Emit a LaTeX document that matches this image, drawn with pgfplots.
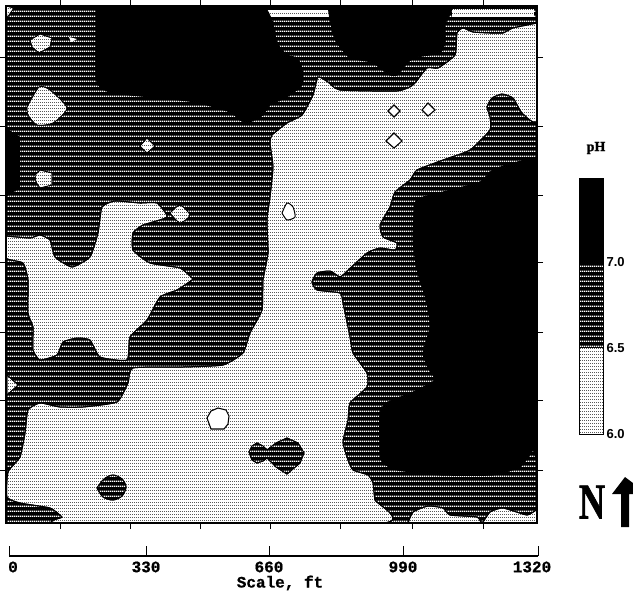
\documentclass[border=0pt]{standalone}
\usepackage{fontspec}
\setmainfont{Liberation Sans}
\newfontfamily\monof[BoldFeatures={FakeBold=0.8}]{Liberation Mono}
\newfontfamily\serf[BoldFeatures={FakeBold=1.5}]{Liberation Serif}
\usepackage{pgfplots}
\pgfplotsset{compat=1.18}
\usetikzlibrary{patterns}
\pgfdeclarepatternformonly{mapstripes}{\pgfqpoint{0pt}{0pt}}{\pgfqpoint{2pt}{5pt}}{\pgfqpoint{2pt}{5pt}}{%
  \pgfpathrectangle{\pgfpointorigin}{\pgfqpoint{2.1pt}{1.5pt}}\pgfusepath{fill}}
\pgfdeclarepatternformonly{mapdots}{\pgfqpoint{0pt}{0pt}}{\pgfqpoint{2pt}{3.4pt}}{\pgfqpoint{2pt}{3.4pt}}{%
  \pgfpathrectangle{\pgfpointorigin}{\pgfqpoint{1.4pt}{0.8pt}}\pgfusepath{fill}}
\tikzset{
  midband/.style={fill=black,postaction={pattern=mapstripes,pattern color=white}},
  lightband/.style={fill=white,postaction={pattern=mapdots,pattern color=black}},
  blk/.style={draw=black,line width=0.9pt,fill=black},
}
\begin{document}
\begin{tikzpicture}
\path[use as bounding box] (0pt,0pt) rectangle (633pt,-592pt);
% ---------- map ----------
\begin{axis}[
  at={(6pt,-6pt)},anchor=north west,scale only axis,width=531pt,height=517pt,
  xmin=6,xmax=537,ymin=6,ymax=523,y dir=reverse,
  axis on top,axis line style={line width=1.3pt},
  xtick={60,130,200,270,340,412,483},ytick={57,126,195,262,332,400,470},
  xticklabels={},yticklabels={},tick align=outside,
  major tick length=6pt,tick style={black,line width=0.9pt},
  xtick pos=both,ytick pos=both,
]
% base: 6.5-7.0 band
\addplot[midband,draw=none] coordinates {(6,6)(537,6)(537,523)(6,523)} --cycle;
% left black strip
\addplot[fill=black,draw=none] coordinates {(6,128)(20,137)(20,188)(6,197)} --cycle;
% top noise strips
\addplot[lightband,draw=none] coordinates {(267,10)(330,10)(330,17)(267,17)} --cycle;
\addplot[lightband,draw=none] coordinates {(452,9)(534,9)(534,17)(452,17)} --cycle;
% black zones
\addplot[blk,smooth,tension=0.3] coordinates {(96,6)(96,40)(96,78)(100,87)(112,93)(150,97)(195,102)(230,112)(240,120)(248,123)(263,115)(270,105)(287,97)(302,85)(302,68)(297,58)(287,55)(277,43)(273,23)(267,10)(260,6)(96,6)};
\addplot[blk,smooth,tension=0.3] coordinates {(328,6)(330,20)(333,33)(337,43)(350,58)(372,62)(380,68)(390,75)(397,75)(408,62)(417,57)(440,53)(445,43)(445,25)(448,18)(452,9)(452,6)(328,6)};
\addplot[blk,smooth,tension=0.3] coordinates {(536,157)(503,166)(490,172)(480,182)(443,192)(423,197)(415,203)(413,240)(417,270)(427,303)(430,327)(423,353)(428,368)(435,380)(413,392)(388,402)(380,412)(380,453)(383,463)(397,470)(440,475)(493,475)(520,467)(533,450)(537,447)(537,157)};
% central light zone
\addplot[lightband,draw=black,line width=1pt,smooth,tension=0.3] coordinates {
(537,23)(513,28)(503,33)(490,33)(473,32)(463,28)(457,33)(455,55)(438,68)(427,68)(413,85)(397,91)(340,90)(328,82)(318,77)(313,95)(302,115)(287,123)(272,135)(270,143)(273,167)(270,197)(267,220)(268,253)(263,280)(262,310)(250,333)(243,353)(223,365)(183,367)(133,368)(128,383)(117,402)(83,407)(60,407)(40,403)(28,410)(25,433)(20,457)(8,472)(7,497)(20,503)(50,508)(62,517)(63,523)(383,523)(375,500)(373,483)(368,475)(353,470)(348,460)(343,442)(348,420)(350,403)(367,387)(367,373)(353,353)(350,337)(343,303)(340,293)(317,290)(312,282)(317,273)(330,271)(340,277)(345,273)(367,253)(380,248)(395,250)(397,243)(383,237)(380,225)(390,207)(395,192)(410,180)(417,170)(443,160)(470,150)(490,130)(490,117)(487,107)(492,98)(502,94)(513,98)(522,113)(537,120)(537,23)};
% left light zone
\addplot[lightband,draw=black,line width=1pt,smooth,tension=0.3] coordinates {
(6,236)(30,238)(40,235)(50,240)(55,257)(72,267)(90,257)(98,233)(102,207)(115,201)(140,203)(157,203)(167,217)(143,225)(133,233)(133,250)(150,263)(180,268)(192,278)(192,280)(177,290)(160,297)(147,320)(130,337)(127,360)(100,357)(90,340)(77,338)(63,342)(57,355)(40,360)(33,350)(33,327)(28,313)(28,280)(23,263)(6,258)(6,236)};
% bottom right light zone
\addplot[lightband,draw=black,line width=1pt,smooth,tension=0.3] coordinates {(408,523)(413,512)(428,506)(443,508)(450,515)(477,517)(482,523)(490,512)(503,508)(527,515)(537,510)(537,523)(408,523)};
% small light islands
\addplot[lightband,draw=black,line width=0.7pt] coordinates {(6,6)(14,8)(7,18)} --cycle;
\addplot[lightband,draw=black,line width=0.7pt] coordinates {(30,40)(40,34)(52,38)(50,47)(39,53)(32,47)} --cycle;
\addplot[fill=white,draw=none] coordinates {(69,37)(77,39)(71,42)} --cycle;
\addplot[lightband,draw=black,line width=0.7pt,smooth,tension=0.4] coordinates {(27,107)(39,87)(50,90)(67,108)(53,123)(37,125)(28,115)(27,107)};
\addplot[lightband,draw=black,line width=0.7pt] coordinates {(140,146)(147,138)(155,146)(147,153)} --cycle;
\addplot[lightband,draw=black,line width=0.7pt] coordinates {(35,175)(40,170)(52,173)(52,185)(40,188)(36,182)} --cycle;
\addplot[lightband,draw=black,line width=0.7pt,smooth,tension=0.4] coordinates {(170,213)(180,205)(190,215)(180,223)(170,213)};
\addplot[lightband,draw=black,line width=0.7pt] coordinates {(7,375)(18,385)(7,395)} --cycle;
% outlined islands in the light zone
\addplot[fill=white,draw=black,line width=1pt,smooth,tension=0.4] coordinates {(282,213)(287,203)(293,207)(295,217)(287,220)(282,213)};
\addplot[fill=white,draw=black,line width=1.1pt] coordinates {(388,111)(394,105)(400,111)(394,117)} --cycle;
\addplot[fill=white,draw=black,line width=1.1pt] coordinates {(422,110)(428,103)(435,110)(428,116)} --cycle;
\addplot[fill=white,draw=black,line width=1.1pt] coordinates {(386,141)(394,133)(402,141)(394,148)} --cycle;
\addplot[fill=white,draw=black,line width=1.1pt] coordinates {(207,418)(211,411)(218,408)(226,410)(229,416)(228,424)(224,429)(211,429)} --cycle;
% striped islands in the light zone
\addplot[midband,draw=black,line width=1pt,smooth,tension=0.5] coordinates {(97,488)(104,479)(113,475)(122,479)(126,487)(122,496)(113,500)(103,497)(97,488)};
\addplot[midband,draw=black,line width=1pt] coordinates {(249,452)(252,446)(257,443)(263,446)(267,450)(276,443)(287,438)(298,443)(304,453)(300,463)(287,474)(276,467)(267,458)(263,461)(257,463)(252,460)} --cycle;
\end{axis}
% ---------- scale bar ----------
\begin{axis}[
  at={(9pt,-556pt)},anchor=south west,scale only axis,width=529pt,height=12pt,
  xmin=9,xmax=538,ymin=0,ymax=1,
  axis x line=bottom,axis y line=none,axis line style={-,line width=1.1pt},
  xtick={9,146,269,403,538},xticklabels={\hspace*{8pt}0,330,660,990,1320\hspace*{12pt}},
  tick align=inside,major tick length=10pt,tick style={black,line width=0.9pt},
  tick label style={font=\monof\fontsize{16}{18}\selectfont\bfseries},
  xticklabel style={yshift=-2pt},
  clip=false,
]
\addplot[draw=none] coordinates {(9,0)(538,0)};
\end{axis}
% ---------- pH key ----------
\begin{axis}[
  at={(579pt,-434pt)},anchor=south west,scale only axis,width=24pt,height=256pt,
  xmin=0,xmax=1,ymin=6,ymax=7.488,axis on top,
  axis line style={line width=1pt},
  xtick=\empty,ytick={6,6.5,7},yticklabel pos=right,ytick pos=right,
  major tick length=0pt,
  y tick label style={font=\fontsize{13}{15}\selectfont\bfseries,
    /pgf/number format/assume math mode=true,
    /pgf/number format/fixed,/pgf/number format/fixed zerofill,/pgf/number format/precision=1,xshift=0pt},
]
\addplot[lightband,draw=none] coordinates {(0,6)(1,6)(1,6.5)(0,6.5)} --cycle;
\addplot[midband,draw=none] coordinates {(0,6.5)(1,6.5)(1,7)(0,7)} --cycle;
\addplot[fill=black,draw=none] coordinates {(0,7)(1,7)(1,7.488)(0,7.488)} --cycle;
\end{axis}
% ---------- text and north arrow ----------
\begin{axis}[
  at={(0pt,-592pt)},anchor=south west,scale only axis,width=633pt,height=592pt,
  xmin=0,xmax=633,ymin=0,ymax=592,y dir=reverse,hide axis,clip=false,
]
\addplot[fill=black,draw=none] coordinates {(625,477)(612,494)(621,494)(621,527)(629,527)(629,494)(633,494)(633,483)} --cycle;
\node[font=\monof\fontsize{16}{18}\selectfont\bfseries] at (axis cs:280,583) {Scale, ft};
\node[font=\serf\fontsize{14}{15}\selectfont\bfseries] at (axis cs:596,148) {pH};
\node[font=\serf\fontsize{50}{52}\selectfont\bfseries,xscale=0.72] at (axis cs:592,502) {N};
\end{axis}
\end{tikzpicture}
\end{document}
